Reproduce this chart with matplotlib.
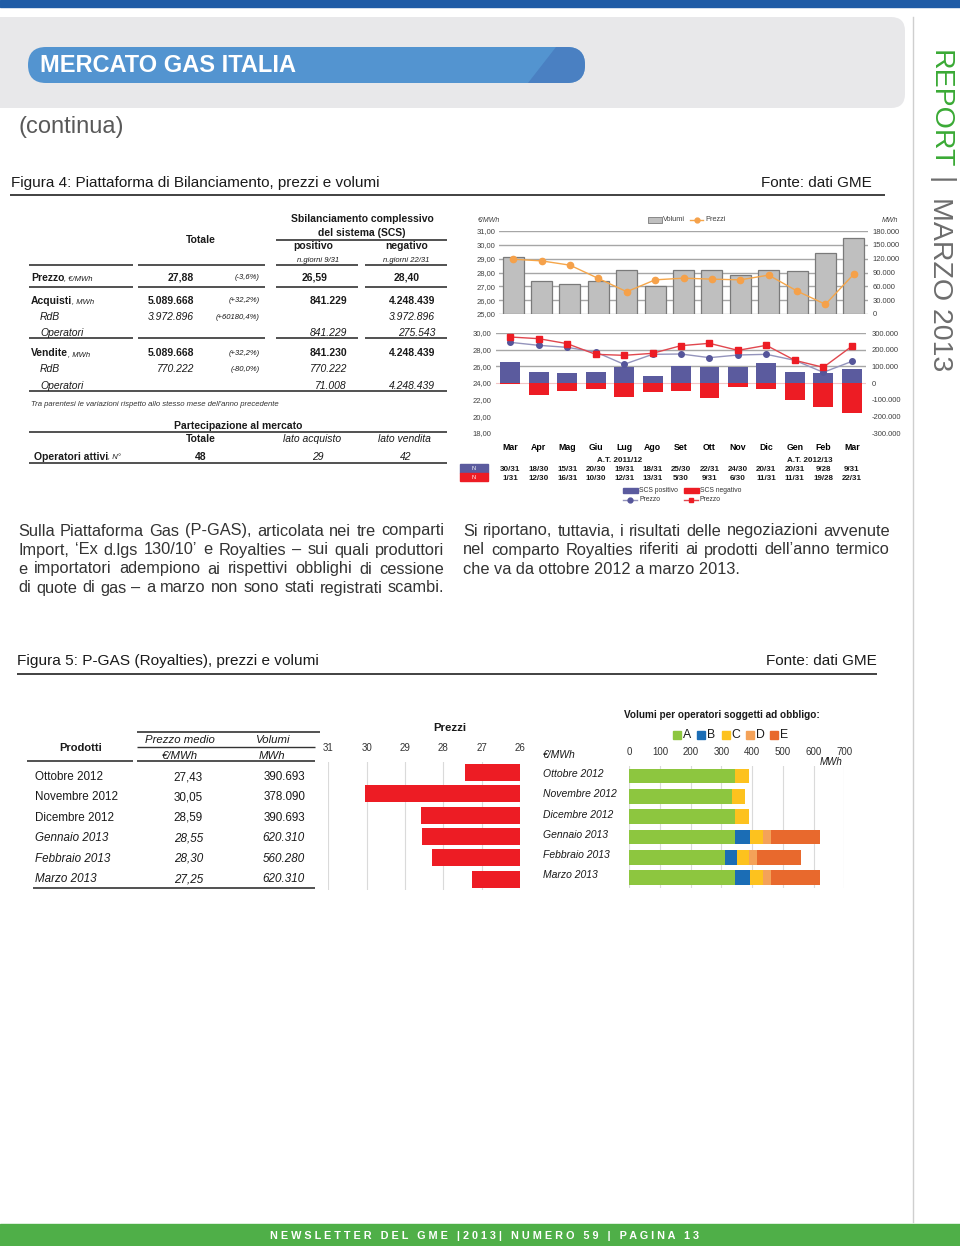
import matplotlib
matplotlib.use('Agg')
import matplotlib.pyplot as plt
from matplotlib.patches import Rectangle, FancyBboxPatch, Polygon
import numpy as np

plt.rcParams['font.family'] = ['Liberation Sans', 'DejaVu Sans']

# ---------------- data: Figura 4 ----------------
mesi = ['Mar', 'Apr', 'Mag', 'Giu', 'Lug', 'Ago', 'Set', 'Ott', 'Nov', 'Dic', 'Gen', 'Feb', 'Mar']
volumi = [124500, 72000, 66000, 70500, 96000, 60000, 94500, 95000, 83500, 96500, 93000, 132500, 164000]
prezzi = [28.96, 28.84, 28.53, 27.57, 26.61, 27.47, 27.59, 27.52, 27.47, 27.81, 26.66, 25.70, 27.88]
scs_pos = [128000, 66000, 58000, 68000, 94000, 44000, 100000, 94000, 94000, 118000, 68000, 58000, 86000]
scs_neg = [-4000, -70000, -50000, -36000, -84000, -52000, -46000, -90000, -26000, -38000, -102000, -144000, -178000]
prezzo_pos = [28.88, 28.52, 28.28, 27.72, 26.24, 27.44, 27.48, 27.04, 27.36, 27.44, 26.72, 25.28, 26.59]
prezzo_neg = [29.52, 29.32, 28.72, 27.44, 27.32, 27.56, 28.48, 28.76, 27.92, 28.52, 26.72, 25.88, 28.40]
giorni_pos = ['30/31', '18/30', '15/31', '20/30', '19/31', '18/31', '25/30', '22/31', '24/30', '20/31', '20/31', '9/28', '9/31']
giorni_neg = ['1/31', '12/30', '16/31', '10/30', '12/31', '13/31', '5/30', '9/31', '6/30', '11/31', '11/31', '19/28', '22/31']

# table Figura 4
righe = ['Acquisti', 'RdB', 'Operatori', 'Vendite', 'RdB', 'Operatori']
tot = ['5.089.668', '3.972.896', '', '5.089.668', '770.222', '']
var = ['(+32,2%)', '(+60180,4%)', '', '(+32,2%)', '(-80,0%)', '']
pos = ['841.229', '', '841.229', '841.230', '770.222', '71.008']
neg = ['4.248.439', '3.972.896', '275.543', '4.248.439', '', '4.248.439']

# ---------------- data: Figura 5 ----------------
prodotti = ['Ottobre 2012', 'Novembre 2012', 'Dicembre 2012', 'Gennaio 2013', 'Febbraio 2013', 'Marzo 2013']
prezzo_medio = [27.43, 30.05, 28.59, 28.55, 28.30, 27.25]
volumi_mwh = [390693, 378090, 390693, 620310, 560280, 620310]
vol_A = [345, 334, 345, 345, 310, 345]
vol_B = [0, 0, 0, 46.5, 42, 46.5]
vol_C = [45.7, 44.1, 45.7, 43, 39, 43]
vol_D = [0, 0, 0, 26, 25, 26]
vol_E = [0, 0, 0, 159.8, 144.3, 159.8]

W, H = 960, 1246
fig = plt.figure(figsize=(9.6, 12.46), dpi=100)
bg = fig.add_axes([0, 0, 1, 1])
bg.set_xlim(0, W)
bg.set_ylim(H, 0)
bg.axis('off')
rend = fig.canvas.get_renderer()


def box(x0, y0, x1, y1):
    return [x0 / W, 1 - y1 / H, (x1 - x0) / W, (y1 - y0) / H]


def fmt_dec(v):
    return f"{v:.2f}".replace('.', ',')


def fmt_mig(v):
    return f"{v:,.0f}".replace(',', '.')


def hline(y, x0, x1, lw=1.2, c='#333333'):
    bg.plot([x0, x1], [y, y], color=c, lw=lw, solid_capstyle='butt')


def txt(x, y, s, size=7.5, **kw):
    kw.setdefault('va', 'center')
    kw.setdefault('color', '#1a1a1a')
    return bg.text(x, y, s, fontsize=size, **kw)


def suffix(t, s):
    # small italic unit right after a bold label
    bg.annotate(s, xy=(1, 0.42), xycoords=t, va='center', ha='left', fontsize=5.5,
                style='italic', color='#1a1a1a')


def justify(x0, x1, y, s, size):
    words = s.split(' ')
    arts = [txt(0, y, w, size, color='#333333') for w in words]
    ws = [a.get_window_extent(rend).width for a in arts]
    gap = (x1 - x0 - sum(ws)) / (len(words) - 1)
    xx = x0
    for a, w in zip(arts, ws):
        a.set_x(xx)
        xx += w + gap


# ---------------- page header ----------------
bg.add_patch(Rectangle((0, 0), W, 7, color='#1F5CA6'))
bg.add_patch(FancyBboxPatch((-30, 17), 935, 91, boxstyle='round,pad=0,rounding_size=14',
                            fc='#E8E8EA', ec='none'))
pill = FancyBboxPatch((28, 47), 557, 36, boxstyle='round,pad=0,rounding_size=18',
                      fc='#5394D0', ec='none')
bg.add_patch(pill)
stripe = Polygon([(528, 83), (556, 47), (600, 47), (600, 83)], closed=True, fc='#4A80C2', ec='none')
bg.add_patch(stripe)
stripe.set_clip_path(pill)
txt(40, 66, 'MERCATO GAS ITALIA', 17, color='white', fontweight='bold')
txt(19, 127, '(continua)', 17, color='#595959')

bg.plot([913, 913], [17, 1222], color='#CFCFCF', lw=1)
bg.text(940, 50, 'REPORT', fontsize=20.5, rotation=-90, ha='center', va='top', color='#3AAA35')
bg.text(940, 181, '|', fontsize=20.5, rotation=-90, ha='center', va='center', color='#6D6D6D')
bg.text(940, 197, 'MARZO 2013', fontsize=20.5, rotation=-90, ha='center', va='top', color='#6D6D6D')

# footer
bg.add_patch(Rectangle((0, 1224), W, 22, color='#4FAF48'))
foot = '   '.join([' '.join(w) for w in ['NEWSLETTER', 'DEL', 'GME', '|2013|', 'NUMERO', '59', '|', 'PAGINA', '13']])
txt(485, 1236, foot, 7.8, color='white', fontweight='bold', ha='center')

# ---------------- Figura 4 ----------------
txt(11, 183, 'Figura 4: Piattaforma di Bilanciamento, prezzi e volumi', 11)
txt(872, 183, 'Fonte: dati GME', 11, ha='right')
hline(195, 10, 885, lw=1.3)

# table
txt(362, 219, 'Sbilanciamento complessivo', fontweight='bold', ha='center')
txt(362, 233, 'del sistema (SCS)', fontweight='bold', ha='center')
hline(239.5, 276, 447)
txt(201, 240, 'Totale', fontweight='bold', ha='center')
txt(313, 246, 'positivo', fontweight='bold', ha='center')
txt(407, 246, 'negativo', fontweight='bold', ha='center')
txt(318, 260.5, 'n.giorni 9/31', 5.5, style='italic', ha='center')
txt(406, 260.5, 'n.giorni 22/31', 5.5, style='italic', ha='center')
segs = [(29, 133), (138, 265), (276, 358), (365, 447)]
for a, b in segs:
    hline(265, a, b)

t = txt(31, 277.7, 'Prezzo', fontweight='bold')
suffix(t, ', €/MWh')
txt(194, 277.7, '27,88', fontweight='bold', ha='right')
txt(260, 277.7, '(-3,6%)', 5.5, style='italic', ha='right')
txt(315, 277.7, '26,59', fontweight='bold', ha='center')
txt(407, 277.7, '28,40', fontweight='bold', ha='center')
for a, b in segs:
    hline(286.7, a, b)

row_y = [300.7, 317.3, 333.3, 353.3, 369.3, 385.7]
for i, (lab, y) in enumerate(zip(righe, row_y)):
    main = lab in ('Acquisti', 'Vendite')
    w = 'bold' if main else 'normal'
    st = 'normal' if main else 'italic'
    if main:
        t = txt(31, y, lab, fontweight='bold')
        suffix(t, ', MWh')
    else:
        txt(40, y, lab, style='italic')
    txt(194, y, tot[i], fontweight=w, style=st, ha='right')
    txt(260, y, var[i], 5.5, style='italic', ha='right')
    txt(347, y, pos[i], fontweight=w, style=st, ha='right')
    txt(435, y, neg[i], fontweight=w, style=st, ha='right')
for a, b in segs:
    hline(337.7, a, b)
hline(391, 29, 447)
txt(31, 404.3, "Tra parentesi le variazioni rispetto allo stesso mese dell'anno precedente", 5.6,
    style='italic', color='#333333')

txt(238, 426, 'Partecipazione al mercato', fontweight='bold', ha='center')
hline(431.5, 29, 447)
txt(201, 439.3, 'Totale', fontweight='bold', ha='center')
txt(312, 439.3, 'lato acquisto', style='italic', ha='center')
txt(404, 439.3, 'lato vendita', style='italic', ha='center')
t = txt(34, 456.7, 'Operatori attivi', fontweight='bold')
suffix(t, ', N°')
txt(201, 456.7, '48', fontweight='bold', ha='center')
txt(318, 456.7, '29', style='italic', ha='center')
txt(406, 456.7, '42', style='italic', ha='center')
hline(463.3, 29, 447)

# chart upper: volumi / prezzi
x = np.arange(len(mesi))
ax1 = fig.add_axes(box(499, 231, 868, 314))
ax1r = ax1.twinx()
ax1r.bar(x, volumi, width=0.74, color='#BFBFBF', edgecolor='#7A7A7A', lw=0.9, zorder=2)
ax1r.set_ylim(0, 180000)
ax1r.set_yticks(range(0, 180001, 30000))
ax1r.set_yticklabels([fmt_mig(v) for v in range(0, 180001, 30000)])
ax1r.grid(axis='y', color='#A6A6A6', lw=1)
ax1r.set_axisbelow(True)
ax1.set_zorder(ax1r.get_zorder() + 1)
ax1.patch.set_visible(False)
ax1.plot(x, prezzi, color='#F5A64A', lw=1, marker='o', ms=4.5, mfc='#F5A14A', mec='#F5A14A')
ax1.set_ylim(25, 31)
ax1.set_yticks(range(25, 32))
ax1.set_yticklabels([fmt_dec(v) for v in range(25, 32)])
for a in (ax1, ax1r):
    a.set_xlim(-0.5, 12.5)
    a.set_xticks([])
    for s in a.spines.values():
        s.set_visible(False)
    a.tick_params(axis='y', length=0, labelsize=5.5, labelcolor='#404040')
ax1.tick_params(axis='y', pad=2.5)
ax1r.tick_params(axis='y', pad=3.5)

txt(478, 220, '€/MWh', 5, style='italic', color='#404040')
txt(898, 220, 'MWh', 5, style='italic', color='#404040', ha='right')
bg.add_patch(Rectangle((648, 216.5), 14, 6, fc='#BFBFBF', ec='#7A7A7A', lw=0.6))
txt(663, 219.5, 'Volumi', 5.3, color='#404040')
bg.plot([690, 703], [219.5, 219.5], color='#F5A64A', lw=1)
bg.plot([696.5], [219.5], marker='o', ms=3.5, color='#F5A14A')
txt(705, 219.5, 'Prezzi', 5.3, color='#404040')

# chart lower: SCS
ax2 = fig.add_axes(box(496, 333, 866, 433))
ax2r = ax2.twinx()
for v in (100000, 200000, 300000):
    ax2r.axhline(v, color='#A6A6A6', lw=1, zorder=0)
ax2r.axhline(0, color='#F3C4C4', lw=0.8, zorder=0)
ax2r.bar(x, scs_pos, width=0.7, color='#5B5B9E', zorder=2)
ax2r.bar(x, scs_neg, width=0.7, color='#ED1C24', zorder=2)
ax2r.set_ylim(-300000, 300000)
ax2r.set_yticks(range(-300000, 300001, 100000))
ax2r.set_yticklabels([fmt_mig(v) for v in range(-300000, 300001, 100000)])
ax2.set_zorder(ax2r.get_zorder() + 1)
ax2.patch.set_visible(False)
ax2.plot(x, prezzo_pos, color='#9494BC', lw=1, marker='o', ms=4, mfc='#55559A', mec='#55559A')
ax2.plot(x, prezzo_neg, color='#E0474E', lw=1, marker='s', ms=4, mfc='#ED1C24', mec='#ED1C24')
ax2.set_ylim(18, 30)
ax2.set_yticks(range(18, 31, 2))
ax2.set_yticklabels([fmt_dec(v) for v in range(18, 31, 2)])
for a in (ax2, ax2r):
    a.set_xlim(-0.5, 12.5)
    for s in a.spines.values():
        s.set_visible(False)
    a.tick_params(axis='y', length=0, labelsize=5.5, labelcolor='#404040')
ax2.tick_params(axis='y', pad=3.5)
ax2r.tick_params(axis='y', pad=4)
ax2r.set_xticks([])
ax2.set_xticks(x)
ax2.set_xticklabels(mesi, fontsize=6.3, fontweight='bold')
ax2.tick_params(axis='x', length=0, pad=7)
tr = ax2.get_xaxis_transform()
for i in range(len(mesi)):
    ax2.text(i, (433 - 469.3) / 100, giorni_pos[i], transform=tr, fontsize=5.8, fontweight='bold',
             ha='center', va='center', color='#1a1a1a')
    ax2.text(i, (433 - 478.7) / 100, giorni_neg[i], transform=tr, fontsize=5.8, fontweight='bold',
             ha='center', va='center', color='#1a1a1a')
txt(620, 460.7, 'A.T. 2011/12', 5.8, fontweight='bold', ha='center')
txt(810, 460.7, 'A.T. 2012/13', 5.8, fontweight='bold', ha='center')
bg.add_patch(Rectangle((460, 464), 28, 8.7, color='#5B5B9E'))
bg.add_patch(Rectangle((460, 472.7), 28, 8.7, color='#ED1C24'))
txt(474, 468.4, 'N', 4, color='white', ha='center')
txt(474, 477.1, 'N', 4, color='white', ha='center')

bg.add_patch(Rectangle((623, 487.7), 15, 5.6, color='#5B5B9E'))
txt(639, 490.5, 'SCS positivo', 4.9, color='#333333')
bg.add_patch(Rectangle((684, 487.7), 15, 5.6, color='#ED1C24'))
txt(700, 490.5, 'SCS negativo', 4.9, color='#333333')
bg.plot([623, 637], [499.5, 499.5], color='#9494BC', lw=1)
bg.plot([630], [499.5], marker='o', ms=3.5, color='#55559A')
txt(639, 499.5, 'Prezzo', 4.9, color='#333333')
bg.plot([684, 698], [499.5, 499.5], color='#E0474E', lw=1)
bg.plot([691], [499.5], marker='s', ms=3.5, color='#ED1C24')
txt(700, 499.5, 'Prezzo', 4.9, color='#333333')

# ---------------- testo ----------------
par_sx = ['Sulla Piattaforma Gas (P-GAS), articolata nei tre comparti',
          'Import, ‘Ex d.lgs 130/10’ e Royalties – sui quali produttori',
          'e importatori adempiono ai rispettivi obblighi di cessione',
          'di quote di gas – a marzo non sono stati registrati scambi.']
par_dx = ['Si riportano, tuttavia, i risultati delle negoziazioni avvenute',
          'nel comparto Royalties riferiti ai prodotti dell’anno termico',
          'che va da ottobre 2012 a marzo 2013.']
for k, s in enumerate(par_sx):
    justify(18, 444, 531 + 19 * k, s, 11.8)
for k, s in enumerate(par_dx[:2]):
    justify(463, 890, 531 + 19 * k, s, 11.8)
txt(463, 569, par_dx[2], 11.8, color='#333333')

# ---------------- Figura 5 ----------------
txt(17, 661, 'Figura 5: P-GAS (Royalties), prezzi e volumi', 11.1)
txt(877, 661, 'Fonte: dati GME', 11, ha='right')
hline(674, 17, 877, lw=1.3)

hline(731.7, 137, 320)
txt(180, 740, 'Prezzo medio', 8.2, style='italic', ha='center')
txt(272, 740, 'Volumi', 8.2, style='italic', ha='center')
hline(746.7, 137, 315, lw=1)
txt(81, 747.7, 'Prodotti', 8, fontweight='bold', ha='center')
txt(180, 755.7, '€/MWh', 8.2, style='italic', ha='center')
txt(272, 755.7, 'MWh', 8.2, style='italic', ha='center')
hline(760.7, 27, 133)
hline(760.7, 137, 315)
prod_y = [777, 797.3, 817.7, 838.3, 858.7, 879]
for i, (p, y) in enumerate(zip(prodotti, prod_y)):
    st = 'normal' if i < 3 else 'italic'
    txt(35, y, p, 8.4, style=st)
    txt(203, y, fmt_dec(prezzo_medio[i]), 8.4, style=st, ha='right')
    txt(305, y, fmt_mig(volumi_mwh[i]), 8.4, style=st, ha='right')
hline(888, 33, 315)

# Prezzi bars
yy = np.arange(len(prodotti))
ax3 = fig.add_axes(box(328.3, 761.8, 520, 890))
ax3.barh(yy, [p - 26 for p in prezzo_medio], left=26, height=0.8, color='#ED1C24', zorder=2)
ax3.set_xlim(31, 26)
ax3.set_ylim(5.5, -0.5)
ax3.set_xticks(range(26, 32))
ax3.xaxis.tick_top()
ax3.set_yticks([])
ax3.grid(axis='x', color='#DADADA', lw=0.8)
ax3.set_axisbelow(True)
for s in ax3.spines.values():
    s.set_visible(False)
ax3.tick_params(axis='x', length=0, labelsize=7, pad=6, labelcolor='#333333')
txt(450, 728, 'Prezzi', 8.2, fontweight='bold', ha='center')

# Volumi stacked bars
colori = ['#8DC63F', '#1B6DB5', '#FDC21E', '#F4A259', '#E8692D']
ax4 = fig.add_axes(box(629.3, 765.7, 844.3, 887.7))
left = np.zeros(len(prodotti))
for serie, c in zip([vol_A, vol_B, vol_C, vol_D, vol_E], colori):
    ax4.barh(yy, serie, left=left, height=0.72, color=c, zorder=2)
    left = left + np.array(serie)
ax4.set_xlim(0, 700)
ax4.set_ylim(5.5, -0.5)
ax4.set_xticks(range(0, 701, 100))
ax4.xaxis.tick_top()
ax4.set_yticks([])
ax4.grid(axis='x', color='#DADADA', lw=0.8)
ax4.set_axisbelow(True)
for s in ax4.spines.values():
    s.set_visible(False)
ax4.tick_params(axis='x', length=0, labelsize=7, pad=6, labelcolor='#333333')
ytr = ax4.get_yaxis_transform()
for i, p in enumerate(prodotti):
    ax4.text((543 - 629.3) / 215, i - 0.1, p, transform=ytr, fontsize=7.5, style='italic',
             va='center', ha='left', color='#1a1a1a')
txt(543, 755, '€/MWh', 7.5, style='italic')
txt(820, 761.7, 'MWh', 7, style='italic')
txt(722, 715, 'Volumi per operatori soggetti ad obbligo:', 7.2, fontweight='bold', ha='center')
for k, (lab, c) in enumerate(zip(['A', 'B', 'C', 'D', 'E'], colori)):
    x0 = 673 + 24.3 * k
    bg.add_patch(Rectangle((x0, 730.5), 8, 8, color=c))
    txt(x0 + 10, 735, lab, 8.8)

fig.savefig('out.png', dpi=100)
